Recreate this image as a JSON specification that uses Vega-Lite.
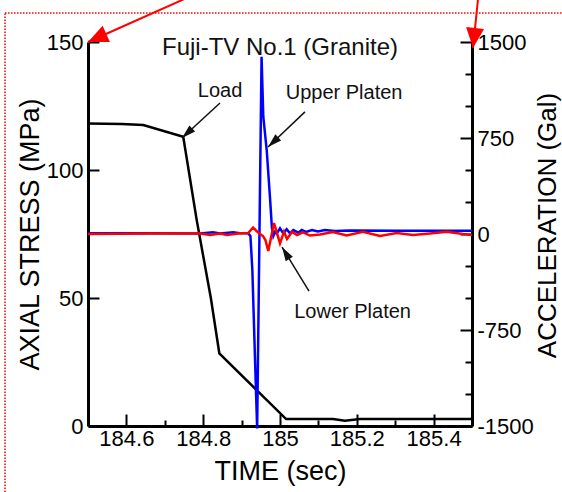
{
  "$schema": "https://vega.github.io/schema/vega-lite/v6.json",
  "width": 384,
  "height": 384,
  "autosize": {"type": "none"},
  "padding": {"left": 88, "top": 42, "right": 90, "bottom": 66},
  "background": "white",
  "config": {
    "view": {"stroke": null},
    "font": "Liberation Sans",
    "axis": {"grid": false, "labelFont": "Liberation Sans", "titleFont": "Liberation Sans", "labelColor": "#000", "titleColor": "#000", "tickColor": "#000", "domainColor": "#000", "titleFontWeight": "normal", "labelFlush": false, "labelOverlap": false}
  },
  "title": {"text": "Fuji-TV No.1 (Granite)", "fontSize": 24, "fontWeight": "normal", "font": "Liberation Sans", "color": "#111", "anchor": "middle", "frame": "group", "baseline": "alphabetic", "offset": -100},
  "datasets": {
    "load": [
      {"t": 184.5, "s": 118.2}, {"t": 184.588, "s": 118.0}, {"t": 184.644, "s": 117.6}, {"t": 184.748, "s": 113.0},
      {"t": 184.783, "s": 80.5}, {"t": 184.82, "s": 49.9}, {"t": 184.842, "s": 28.4}, {"t": 185.016, "s": 2.7},
      {"t": 185.138, "s": 2.7}, {"t": 185.169, "s": 2.1}, {"t": 185.208, "s": 2.7}, {"t": 185.5, "s": 2.7}
    ],
    "upper": [
      {"t": 184.5, "g": 5}, {"t": 184.661, "g": 5}, {"t": 184.792, "g": 4}, {"t": 184.8255, "g": 13}, {"t": 184.844, "g": 4},
      {"t": 184.878, "g": 13}, {"t": 184.896, "g": 5}, {"t": 184.917, "g": 5}, {"t": 184.923, "g": -16}, {"t": 184.928, "g": -281},
      {"t": 184.935, "g": -984}, {"t": 184.9405, "g": -1520}, {"t": 184.952, "g": 1385}, {"t": 184.9565, "g": 916},
      {"t": 184.9654, "g": 656}, {"t": 184.974, "g": 281}, {"t": 184.979, "g": 47}, {"t": 184.9826, "g": -16},
      {"t": 184.987, "g": 16}, {"t": 184.9914, "g": 4}, {"t": 185.0, "g": 45}, {"t": 185.0086, "g": 5}, {"t": 185.0174, "g": 37},
      {"t": 185.026, "g": 5}, {"t": 185.0346, "g": 31}, {"t": 185.0477, "g": 10}, {"t": 185.0565, "g": 31}, {"t": 185.0677, "g": 16},
      {"t": 185.0833, "g": 31}, {"t": 185.099, "g": 20}, {"t": 185.117, "g": 31}, {"t": 185.143, "g": 23}, {"t": 185.182, "g": 27},
      {"t": 185.3125, "g": 26}, {"t": 185.5, "g": 26}
    ],
    "lower": [
      {"t": 184.5, "g": 0}, {"t": 184.661, "g": 4}, {"t": 184.792, "g": 4}, {"t": 184.818, "g": -8}, {"t": 184.844, "g": 4},
      {"t": 184.862, "g": -8}, {"t": 184.896, "g": 5}, {"t": 184.917, "g": 8}, {"t": 184.93, "g": 51}, {"t": 184.939, "g": 23},
      {"t": 184.948, "g": 0}, {"t": 184.9557, "g": -16}, {"t": 184.962, "g": -47}, {"t": 184.9695, "g": -133}, {"t": 184.9844, "g": 86},
      {"t": 185.0, "g": -73}, {"t": 185.0104, "g": 18}, {"t": 185.0182, "g": -39}, {"t": 185.0313, "g": 16}, {"t": 185.0443, "g": -8},
      {"t": 185.0599, "g": 12}, {"t": 185.0781, "g": -12}, {"t": 185.1042, "g": -4}, {"t": 185.138, "g": 16}, {"t": 185.1737, "g": -12},
      {"t": 185.2161, "g": 18}, {"t": 185.2604, "g": -16}, {"t": 185.3039, "g": 8}, {"t": 185.3464, "g": -8}, {"t": 185.3906, "g": 4},
      {"t": 185.4341, "g": 18}, {"t": 185.4766, "g": 0}, {"t": 185.5, "g": -8}
    ],
    "notes": [
      {"label": "Load", "t": 184.844, "s": 128.5},
      {"label": "Upper Platen", "t": 185.167, "s": 127.7},
      {"label": "Lower Platen", "t": 185.189, "s": 42.0}
    ],
    "arrows": [
      {"name": "Load", "t1": 184.8438, "s1": 126.2, "t2": 184.7448, "s2": 112.5},
      {"name": "Upper", "t1": 185.065, "s1": 122.7, "t2": 184.9688, "s2": 109.0},
      {"name": "Lower", "t1": 185.0755, "s1": 52.7, "t2": 185.0052, "s2": 69.9}
    ],
    "redArrows": [
      {"name": "left", "t1": 184.8615, "s1": 174.2, "t2": 184.5, "s2": 150.0},
      {"name": "right", "t1": 185.5208, "s1": 174.2, "t2": 185.5026, "s2": 147.7}
    ],
    "frame": [
      {"t1": 184.2839, "t2": 186.3, "s1": 161.3, "s2": -40}
    ]
  },
  "layer": [
    {
      "data": {"name": "load"},
      "mark": {"type": "line", "color": "#000", "strokeWidth": 2.5},
      "encoding": {
        "x": {"field": "t", "type": "quantitative", "scale": {"domain": [184.5, 185.5], "nice": false, "zero": false},
          "axis": {"orient": "bottom", "values": [184.6, 184.8, 185, 185.2, 185.4], "format": "~g", "tickSize": -12, "tickWidth": 2, "domainWidth": 3, "labelFontSize": 22, "labelPadding": 14, "title": "TIME (sec)", "titleFontSize": 27, "titlePadding": 9}},
        "y": {"field": "s", "type": "quantitative", "scale": {"domain": [0, 150], "nice": false},
          "axis": {"orient": "left", "values": [0, 50, 100, 150], "tickSize": -11, "tickWidth": 2, "domainWidth": 3, "labelFontSize": 22, "labelPadding": 16, "title": "AXIAL STRESS (MPa)", "titleFontSize": 27, "titlePadding": 2}}
      }
    },
    {
      "data": {"name": "upper"},
      "mark": {"type": "line", "color": "#0000ff", "strokeWidth": 2.5},
      "encoding": {
        "x": {"field": "t", "type": "quantitative", "scale": {"domain": [184.5, 185.5], "nice": false, "zero": false}, "axis": null},
        "y": {"field": "g", "type": "quantitative", "scale": {"domain": [-1500, 1500], "nice": false},
          "axis": {"orient": "right", "values": [-1500, -750, 0, 750, 1500], "labelExpr": "'' + datum.value", "tickSize": -12, "tickWidth": 2, "domainWidth": 3, "labelFontSize": 22, "labelPadding": 17, "title": "ACCELERATION (Gal)", "titleFontSize": 26, "titleAngle": 270, "titleBaseline": "top", "titlePadding": 1, "titleY": 183}}
      }
    },
    {
      "data": {"name": "lower"},
      "mark": {"type": "line", "color": "#ff0000", "strokeWidth": 2.5},
      "encoding": {
        "x": {"field": "t", "type": "quantitative", "scale": {"domain": [184.5, 185.5], "nice": false, "zero": false},
          "axis": {"orient": "bottom", "values": [184.7, 184.9, 185.1, 185.3], "tickSize": -6, "tickWidth": 2, "labels": false, "domain": false, "title": null}},
        "y": {"field": "g", "type": "quantitative", "scale": {"domain": [-1500, 1500], "nice": false},
          "axis": {"orient": "right", "values": [-1250, -1000, -500, -250, 250, 500, 1000, 1250], "tickSize": -7, "tickWidth": 2, "labels": false, "domain": false, "title": null}}
      }
    },
    {
      "layer": [
        {
          "data": {"name": "notes"},
          "mark": {"type": "text", "fontSize": 20, "baseline": "alphabetic", "align": "center", "color": "#111", "font": "Liberation Sans"},
          "encoding": {
            "x": {"field": "t", "type": "quantitative", "scale": {"domain": [184.5, 185.5], "nice": false, "zero": false}, "axis": null},
            "y": {"field": "s", "type": "quantitative", "scale": {"domain": [0, 150], "nice": false},
              "axis": {"orient": "left", "values": [10, 20, 30, 40, 60, 70, 80, 90, 110, 120, 130, 140], "tickSize": -7, "tickWidth": 2, "labels": false, "domain": false, "title": null}},
            "text": {"field": "label"}
          }
        },
        {
          "data": {"name": "arrows"},
          "mark": {"type": "rule", "color": "#111", "strokeWidth": 1.5},
          "encoding": {
            "x": {"field": "t1", "type": "quantitative", "scale": {"domain": [184.5, 185.5], "nice": false, "zero": false}, "axis": null},
            "y": {"field": "s1", "type": "quantitative", "scale": {"domain": [0, 150], "nice": false}, "axis": null},
            "x2": {"field": "t2"},
            "y2": {"field": "s2"}
          }
        },
        {
          "data": {"name": "arrows"},
          "transform": [{"filter": "datum.name === 'Load' || datum.name === 'Upper'"}],
          "mark": {"type": "point", "shape": "M0,0L-0.3,1L0.3,1Z", "angle": 227, "size": 784, "filled": true, "color": "#111", "opacity": 1},
          "encoding": {
            "x": {"field": "t2", "type": "quantitative", "scale": {"domain": [184.5, 185.5], "nice": false, "zero": false}, "axis": null},
            "y": {"field": "s2", "type": "quantitative", "scale": {"domain": [0, 150], "nice": false}, "axis": null}
          }
        },
        {
          "data": {"name": "arrows"},
          "transform": [{"filter": "datum.name === 'Lower'"}],
          "mark": {"type": "point", "shape": "M0,0L-0.3,1L0.3,1Z", "angle": 328.5, "size": 784, "filled": true, "color": "#111", "opacity": 1},
          "encoding": {
            "x": {"field": "t2", "type": "quantitative", "scale": {"domain": [184.5, 185.5], "nice": false, "zero": false}, "axis": null},
            "y": {"field": "s2", "type": "quantitative", "scale": {"domain": [0, 150], "nice": false}, "axis": null}
          }
        },
        {
          "data": {"name": "redArrows"},
          "mark": {"type": "rule", "color": "#ff0000", "strokeWidth": 2, "clip": false},
          "encoding": {
            "x": {"field": "t1", "type": "quantitative", "scale": {"domain": [184.5, 185.5], "nice": false, "zero": false}, "axis": null},
            "y": {"field": "s1", "type": "quantitative", "scale": {"domain": [0, 150], "nice": false}, "axis": null},
            "x2": {"field": "t2"},
            "y2": {"field": "s2"}
          }
        },
        {
          "data": {"name": "redArrows"},
          "transform": [{"filter": "datum.name === 'left'"}],
          "mark": {"type": "point", "shape": "M0,0L-0.45,1L0.45,1Z", "angle": 246, "size": 1600, "filled": true, "color": "#ff0000", "opacity": 1, "clip": false},
          "encoding": {
            "x": {"field": "t2", "type": "quantitative", "scale": {"domain": [184.5, 185.5], "nice": false, "zero": false}, "axis": null},
            "y": {"field": "s2", "type": "quantitative", "scale": {"domain": [0, 150], "nice": false}, "axis": null}
          }
        },
        {
          "data": {"name": "redArrows"},
          "transform": [{"filter": "datum.name === 'right'"}],
          "mark": {"type": "point", "shape": "M0,0L-0.45,1L0.45,1Z", "angle": 186, "size": 1600, "filled": true, "color": "#ff0000", "opacity": 1, "clip": false},
          "encoding": {
            "x": {"field": "t2", "type": "quantitative", "scale": {"domain": [184.5, 185.5], "nice": false, "zero": false}, "axis": null},
            "y": {"field": "s2", "type": "quantitative", "scale": {"domain": [0, 150], "nice": false}, "axis": null}
          }
        },
        {
          "data": {"name": "frame"},
          "mark": {"type": "rect", "fill": "transparent", "stroke": "#ff0000", "strokeWidth": 1.5, "strokeDash": [1.5, 1.5], "clip": false},
          "encoding": {
            "x": {"field": "t1", "type": "quantitative", "scale": {"domain": [184.5, 185.5], "nice": false, "zero": false}, "axis": null},
            "x2": {"field": "t2"},
            "y": {"field": "s1", "type": "quantitative", "scale": {"domain": [0, 150], "nice": false}, "axis": null},
            "y2": {"field": "s2"}
          }
        }
      ]
    }
  ],
  "resolve": {"scale": {"y": "independent"}, "axis": {"x": "independent", "y": "independent"}}
}
